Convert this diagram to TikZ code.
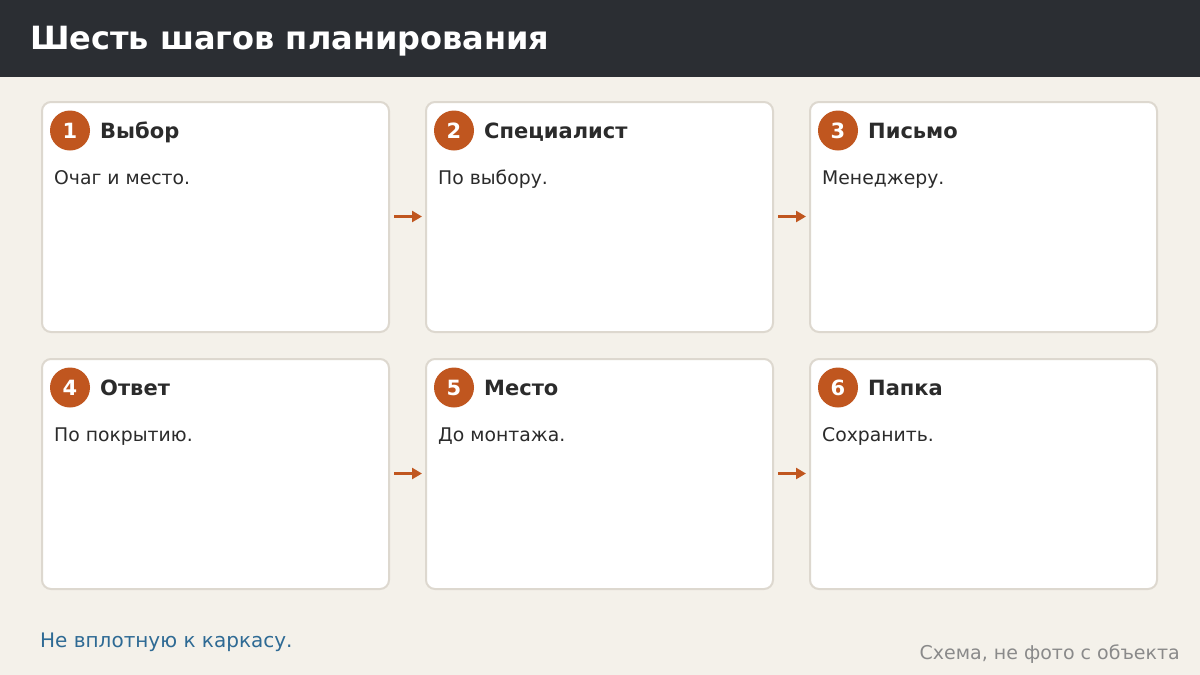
\documentclass[tikz,border=0pt]{standalone}
\usepackage{fontspec}
\setmainfont{DejaVu Sans}
\usetikzlibrary{arrows.meta}
\definecolor{bg}{HTML}{F4F1EA}
\definecolor{hdr}{HTML}{2B2E33}
\definecolor{cardb}{HTML}{DDD8CF}
\definecolor{acc}{HTML}{C0561F}
\definecolor{txt}{HTML}{2B2B2B}
\definecolor{note}{HTML}{2E6A94}
\definecolor{muted}{HTML}{8A8A8A}
\tikzset{
  card/.style={draw=cardb, line width=2pt, fill=white, rounded corners=9pt, minimum width=347pt, minimum height=230pt, inner sep=0pt},
  badge/.style={circle, fill=acc, minimum size=40pt, inner sep=0pt, text=white, font=\fontsize{21}{24}\selectfont\bfseries},
  ctitle/.style={anchor=base west, inner sep=0pt, text=txt, font=\fontsize{21}{24}\selectfont\bfseries},
  cbody/.style={anchor=base west, inner sep=0pt, text=txt, font=\fontsize{18.8}{22}\selectfont},
  flow/.style={draw=acc, line width=3.5pt, -{Triangle[length=10pt,width=11pt]}, shorten <=4pt, shorten >=3pt},
}
\begin{document}
\begin{tikzpicture}[x=1pt,y=-1pt]
\fill[bg] (0,0) rectangle (1200,675);
\useasboundingbox (0,0) rectangle (1200,675);
\fill[hdr] (0,0) rectangle (1200,77);
\node[anchor=base west, inner sep=0pt, text=white, font=\fontsize{32}{36}\selectfont\bfseries] (title) at (30,49) {Шесть шагов планирования};
% cards
\foreach \i/\x/\y/\t/\b in {1/41/101/Выбор/Очаг и место.,2/425/101/Специалист/По выбору.,3/809/101/Письмо/Менеджеру.,4/41/358/Ответ/По покрытию.,5/425/358/Место/До монтажа.,6/809/358/Папка/Сохранить.}{
  \node[card, anchor=north west] (c\i) at (\x,\y) {};
  \node[badge] (n\i) at (\x+29,\y+29.5) {\i};
  \node[ctitle] (t\i) at (\x+59,\y+37) {\t};
  \node[cbody] (b\i) at (\x+13,\y+83.5) {\b};
}
\draw[flow] ([yshift=0.5pt]c1.east) -- ([yshift=0.5pt]c2.west);
\draw[flow] ([yshift=0.5pt]c2.east) -- ([yshift=0.5pt]c3.west);
\draw[flow] ([yshift=0.5pt]c4.east) -- ([yshift=0.5pt]c5.west);
\draw[flow] ([yshift=0.5pt]c5.east) -- ([yshift=0.5pt]c6.west);
\node[anchor=base west, inner sep=0pt, text=note, font=\fontsize{20}{24}\selectfont] (foot) at (40,647) {Не вплотную к каркасу.};
\node[anchor=base east, inner sep=0pt, text=muted, font=\fontsize{19}{22}\selectfont] (src) at (1180,659) {Схема, не фото с объекта};
\end{tikzpicture}
\end{document}
